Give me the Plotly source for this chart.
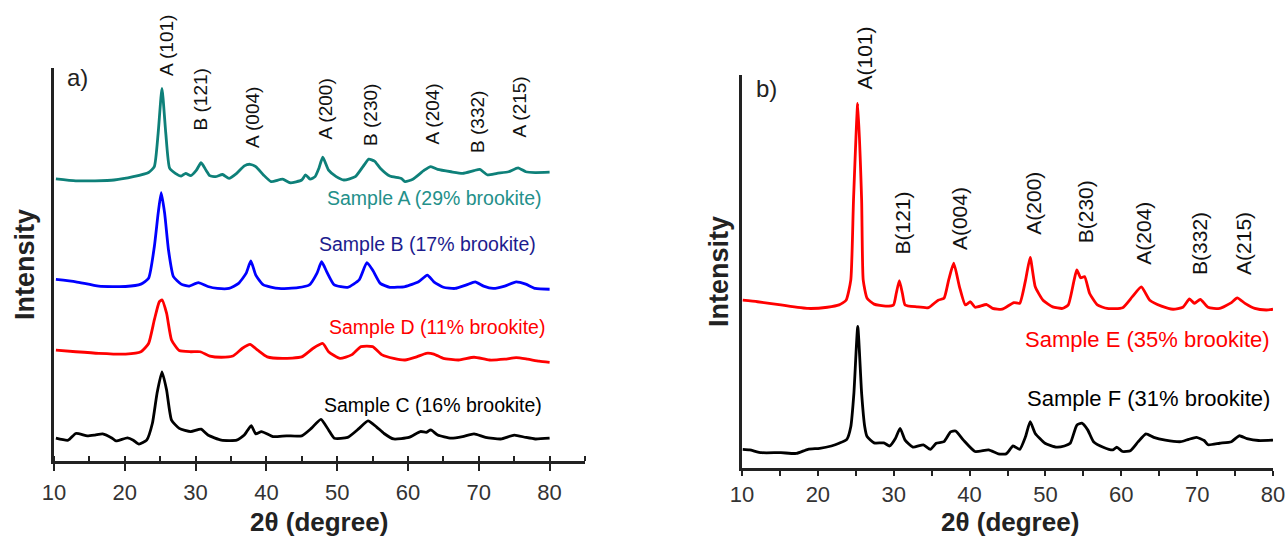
import plotly.graph_objects as go

W, H = 1288, 537

# ---------------- Panel a) data (2θ in degree, intensity in offset a.u.) ----------------
a_x = [10.27, 13.08, 15.79, 18.49, 21.2, 23.36, 24.17, 24.71, 25.25, 25.79, 26.33, 27.14, 27.96, 28.6,
       29.31, 30.12, 30.77, 31.47, 32.0, 32.82, 33.8, 34.72, 35.8, 36.88, 37.69, 38.5, 39.58, 40.66,
       42.29, 43.37, 44.99, 45.53, 46.18, 46.88, 47.42, 47.96, 48.78, 49.86, 50.94, 52.56, 53.64, 54.46,
       55.27, 56.08, 57.43, 59.05, 59.59, 60.68, 62.3, 63.22, 64.19, 66.08, 67.71, 69.33, 70.14, 71.22,
       72.57, 74.2, 75.55, 76.63, 77.98, 80.0]
a_y = [71.8, 71.3, 71.3, 71.5, 72.35, 73.4, 74.9, 83.4, 94.8, 83.4, 74.5, 73.2, 72.5, 73.2,
       72.6, 74.0, 75.9, 74.0, 72.6, 72.35, 72.9, 71.9, 73.2, 75.1, 75.5, 74.9, 72.8, 71.1,
       71.7, 70.8, 71.5, 72.8, 71.7, 72.35, 74.5, 77.3, 74.0, 72.35, 71.5, 72.35, 74.9, 76.8,
       76.3, 74.5, 72.5, 71.9, 71.1, 71.7, 74.0, 74.9, 74.2, 73.6, 73.2, 73.9, 74.2, 72.8,
       73.2, 73.6, 74.6, 73.6, 73.4, 73.5]

b_x = [10.27, 13.08, 16.33, 20.11, 22.28, 23.36, 24.17, 24.71, 25.14, 25.63, 26.17, 26.87, 27.96, 29.04,
       30.39, 31.74, 33.09, 34.72, 36.07, 37.15, 37.8, 38.5, 39.58, 41.75, 44.45, 46.07, 47.15, 47.8,
       48.51, 49.59, 51.48, 53.1, 54.19, 55.0, 56.08, 57.43, 59.59, 61.49, 62.73, 63.65, 65.0, 66.63,
       68.25, 69.49, 70.68, 72.03, 73.66, 75.28, 76.63, 77.98, 80.0]
b_y = [46.2, 45.6, 44.5, 44.4, 45.0, 46.5, 54.5, 63.0, 68.3, 63.0, 53.7, 46.9, 45.0, 44.5,
       45.4, 44.4, 43.9, 43.9, 45.2, 47.8, 50.9, 47.3, 44.8, 43.9, 44.1, 44.8, 47.8, 50.7,
       48.2, 44.8, 44.2, 46.1, 50.5, 48.6, 45.2, 44.2, 44.4, 45.6, 47.3, 45.6, 44.2, 43.9,
       44.8, 45.6, 44.5, 43.9, 44.5, 45.6, 45.0, 43.9, 43.7]

d_x = [10.27, 13.08, 16.33, 20.11, 22.28, 23.36, 24.17, 24.87, 25.25, 25.9, 26.6, 27.69, 29.31, 30.66,
       32.01, 33.63, 35.26, 36.61, 37.69, 38.77, 40.12, 42.29, 44.99, 46.61, 47.97, 48.78, 50.4, 52.02,
       53.37, 55.0, 56.35, 57.97, 59.59, 61.22, 62.57, 63.65, 65.0, 67.17, 69.33, 71.49, 73.66, 75.28,
       76.9, 78.52, 80.0]
d_y = [28.2, 27.8, 27.4, 27.2, 27.8, 29.9, 35.9, 40.5, 41.0, 37.6, 30.8, 28.1, 27.8, 27.8,
       26.7, 26.4, 26.7, 28.7, 29.7, 28.2, 26.5, 26.1, 26.5, 28.7, 29.9, 27.8, 26.1, 27.0,
       29.1, 29.1, 27.0, 26.1, 25.7, 26.5, 27.4, 27.2, 26.1, 25.7, 26.4, 25.7, 25.9, 26.3,
       25.9, 25.4, 25.1]

c_x = [10.27, 12.0, 13.08, 14.7, 15.79, 16.87, 18.22, 18.76, 20.38, 21.2, 22.0, 23.09, 23.9, 24.55,
       25.25, 25.9, 26.6, 27.69, 29.31, 30.77, 31.74, 33.63, 35.8, 36.88, 37.85, 38.5, 39.31, 40.93,
       42.83, 44.99, 46.34, 47.7, 48.78, 49.59, 51.48, 53.1, 54.35, 55.54, 56.62, 57.97, 60.13, 61.76,
       62.57, 63.22, 64.19, 66.08, 67.71, 69.33, 70.95, 73.11, 75.0, 76.63, 77.98, 80.0]
c_y = [5.8, 5.3, 7.0, 6.4, 6.6, 6.9, 5.8, 5.1, 5.9, 5.3, 4.3, 5.3, 9.6, 17.2,
       22.7, 18.1, 10.4, 8.3, 7.5, 8.1, 6.6, 5.3, 5.3, 6.6, 9.0, 6.9, 7.5, 6.2,
       6.4, 6.4, 8.3, 10.6, 7.9, 5.8, 6.0, 8.3, 10.2, 8.7, 7.0, 5.6, 6.0, 7.5,
       7.3, 7.9, 6.6, 5.8, 6.2, 6.9, 6.0, 5.6, 6.6, 6.0, 5.6, 5.8]

# ---------------- Panel b) data ----------------
e_x = [10.1, 12.05, 15.12, 18.7, 21.26, 22.8, 23.72, 24.34, 24.7, 25.26, 25.77, 25.98, 26.49, 27.41,
       28.95, 29.97, 30.33, 30.74, 31.15, 31.5, 33.04, 34.58, 35.86, 36.63, 37.24, 37.91, 38.67, 39.44,
       40.11, 40.72, 42.26, 43.03, 44.31, 45.84, 46.61, 47.38, 47.99, 48.66, 49.68, 50.96, 52.24, 53.01,
       53.78, 54.14, 54.65, 55.16, 55.83, 56.85, 58.13, 60.18, 61.46, 62.64, 63.76, 65.3, 66.83, 68.11,
       68.99, 69.65, 70.42, 71.44, 72.98, 74.52, 75.28, 76.31, 77.59, 79.12, 80.0]
e_y = [42.7, 42.3, 41.5, 40.6, 40.9, 41.5, 42.7, 47.8, 68.2, 92.8, 68.2, 47.8, 43.2, 41.7,
       41.2, 41.5, 44.4, 47.7, 44.4, 41.5, 41.0, 40.8, 42.7, 43.2, 47.8, 52.1, 46.1, 41.5,
       42.3, 40.9, 41.6, 40.6, 40.4, 42.1, 41.9, 47.8, 53.6, 46.1, 42.7, 41.0, 40.6, 41.5,
       47.8, 50.4, 48.4, 48.7, 44.4, 41.5, 40.6, 40.8, 43.6, 46.1, 42.7, 41.2, 40.4, 40.9,
       43.0, 41.9, 42.9, 40.9, 40.6, 42.1, 43.3, 41.9, 40.6, 40.2, 40.4]

f_x = [10.1, 11.02, 12.56, 15.12, 17.17, 18.7, 20.24, 21.78, 22.8, 23.82, 24.34, 24.75, 25.26, 25.77,
       26.18, 26.49, 27.41, 28.69, 29.46, 30.22, 30.84, 31.5, 32.53, 33.91, 34.83, 35.6, 36.63, 37.5,
       38.16, 39.19, 40.72, 42.51, 43.79, 44.82, 45.74, 46.61, 47.38, 47.99, 48.66, 49.94, 51.48, 52.5,
       53.27, 54.14, 54.8, 55.57, 56.34, 57.62, 58.9, 59.41, 60.18, 61.2, 62.23, 63.25, 64.28, 65.81,
       67.86, 68.88, 69.91, 70.93, 71.44, 72.98, 74.52, 75.54, 76.56, 78.1, 80.0]
f_y = [4.75, 4.6, 3.9, 3.9, 3.7, 4.75, 5.0, 5.6, 6.3, 7.3, 10.5, 19.0, 36.0, 19.0,
       10.5, 8.0, 6.4, 6.4, 5.6, 7.5, 10.1, 7.1, 5.3, 5.9, 4.75, 6.3, 6.7, 9.2,
       9.4, 7.1, 4.2, 4.6, 3.6, 3.6, 5.6, 4.75, 8.0, 11.8, 8.8, 6.3, 5.3, 5.6,
       6.3, 10.9, 11.4, 9.7, 6.7, 5.3, 4.6, 5.3, 4.2, 4.4, 6.7, 8.7, 7.8, 7.1,
       6.7, 7.3, 7.8, 7.0, 5.9, 6.3, 6.7, 8.2, 7.5, 7.0, 7.1]

# Peak labels
a_peak_labels = ["A (101)", "B (121)", "A (004)", "A (200)", "B (230)", "A (204)", "B (332)", "A (215)"]
a_peak_pos = [25.9, 30.7, 38.0, 48.3, 54.6, 63.4, 69.9, 75.7]
a_peak_base = [97.5, 83.5, 79.1, 81.2, 79.6, 79.9, 77.9, 81.7]

b_peak_labels = ["A(101)", "B(121)", "A(004)", "A(200)", "B(230)", "A(204)", "B(332)", "A(215)"]
b_peak_pos = [26.1, 31.1, 38.7, 48.4, 55.3, 63.0, 70.3, 76.1]
b_peak_base = [95.7, 53.7, 55.0, 58.8, 56.7, 51.1, 48.6, 48.6]

# Sample labels: (text, x_right, y_center)
a_samples = ["Sample A (29% brookite)", "Sample B (17% brookite)", "Sample D (11% brookite)", "Sample C (16% brookite)"]
a_sample_x = [79.15, 78.3, 79.6, 79.15]
a_sample_y = [66.9, 55.2, 34.1, 14.2]
b_samples = ["Sample E (35% brookite)", "Sample F (31% brookite)"]
b_sample_x = [79.9, 79.9]
b_sample_y = [32.8, 17.8]

x_ticks = [10, 20, 30, 40, 50, 60, 70, 80]

TEAL = "#0e8079"
TEAL_TXT = "#23908a"
BLUE = "#0000ff"
NAVY = "#1c1c8e"
RED = "#ff0000"
BLACK = "#000000"
FONT = "Liberation Sans, Arial, sans-serif"

fig = go.Figure()
lw = 2.8
for xs, ys, col in [(a_x, a_y, TEAL), (b_x, b_y, BLUE), (d_x, d_y, RED), (c_x, c_y, BLACK)]:
    fig.add_trace(go.Scatter(x=xs, y=ys, mode="lines",
                             line=dict(color=col, width=lw, shape="spline", smoothing=0.5),
                             xaxis="x", yaxis="y", showlegend=False, hoverinfo="skip"))
for xs, ys, col in [(e_x, e_y, RED), (f_x, f_y, BLACK)]:
    fig.add_trace(go.Scatter(x=xs, y=ys, mode="lines",
                             line=dict(color=col, width=lw, shape="spline", smoothing=0.5),
                             xaxis="x2", yaxis="y2", showlegend=False, hoverinfo="skip"))

def px2(x, y):
    return x / W, 1 - y / H

axis_col = "#222222"
common_x = dict(showline=True, linecolor=axis_col, linewidth=2.5, showgrid=False, zeroline=False,
                automargin=False,
                tickvals=x_ticks, tickfont=dict(family=FONT, size=22, color="#333333"),
                tickcolor=axis_col, tickwidth=2)
common_y = dict(showline=True, linecolor=axis_col, linewidth=2.5, showgrid=False, zeroline=False,
                automargin=False,
                showticklabels=False, ticks="", range=[0, 100], fixedrange=True)

fig.update_layout(
    width=W, height=H, margin=dict(l=0, r=0, t=0, b=0, autoexpand=False),
    paper_bgcolor="white", plot_bgcolor="white", showlegend=False,
    xaxis=dict(domain=[54 / W, 585 / W], range=[10, 85], anchor="y",
               ticks="outside", ticklen=7, ticklabelstandoff=3,
               minor=dict(dtick=5, tick0=0, ticks="inside", ticklen=5, tickwidth=2, tickcolor=axis_col),
               **common_x),
    yaxis=dict(domain=[1 - 461 / H, 1 - 68 / H], anchor="x", **common_y),
    xaxis2=dict(domain=[742 / W, 1273 / W], range=[10, 80], anchor="y2",
                ticks="outside", ticklen=5, ticklabelstandoff=0,
                minor=dict(dtick=5, tick0=0, ticks="outside", ticklen=5, tickwidth=2, tickcolor=axis_col),
                **common_x),
    yaxis2=dict(domain=[1 - 468 / H, 1 - 75 / H], anchor="x2", **common_y),
)

ann = []
for t, xp, yb in zip(a_peak_labels, a_peak_pos, a_peak_base):
    ann.append(dict(text=t, x=xp, y=yb, xref="x", yref="y", xanchor="center", yanchor="bottom",
                    textangle=-90, showarrow=False, font=dict(family=FONT, size=19, color="#111111")))
for t, xp, yb in zip(b_peak_labels, b_peak_pos, b_peak_base):
    ann.append(dict(text=t, x=xp, y=yb, xref="x2", yref="y2", xanchor="center", yanchor="bottom",
                    textangle=-90, showarrow=False, font=dict(family=FONT, size=21, color="#111111")))
for t, xp, yp, col in zip(a_samples, a_sample_x, a_sample_y, [TEAL_TXT, NAVY, RED, BLACK]):
    ann.append(dict(text=t, x=xp, y=yp, xref="x", yref="y", xanchor="right", yanchor="middle",
                    showarrow=False, font=dict(family=FONT, size=19.5, color=col)))
for t, xp, yp, col in zip(b_samples, b_sample_x, b_sample_y, [RED, BLACK]):
    ann.append(dict(text=t, x=xp, y=yp, xref="x2", yref="y2", xanchor="right", yanchor="middle",
                    showarrow=False, font=dict(family=FONT, size=22, color=col)))

for t, (cx, cy), size, ang, bold in [
    ("a)", (77, 78), 24, 0, False),
    ("b)", (766, 88), 24, 0, False),
    ("Intensity", (25, 265), 27, -90, True),
    ("Intensity", (719, 272), 27, -90, True),
    ("2θ (degree)", (319, 522), 26, 0, True),
    ("2θ (degree)", (1010, 522), 26, 0, True),
]:
    xp, yp = px2(cx, cy)
    ann.append(dict(text=f"<b>{t}</b>" if bold else t, x=xp, y=yp, xref="paper", yref="paper",
                    xanchor="center", yanchor="middle", textangle=ang, showarrow=False,
                    font=dict(family=FONT, size=size, color="#222222")))

fig.update_layout(annotations=ann)
fig.write_html("out.html", config={"displayModeBar": False},
               post_script="document.body.style.margin='0px';document.body.style.overflow='hidden';")
